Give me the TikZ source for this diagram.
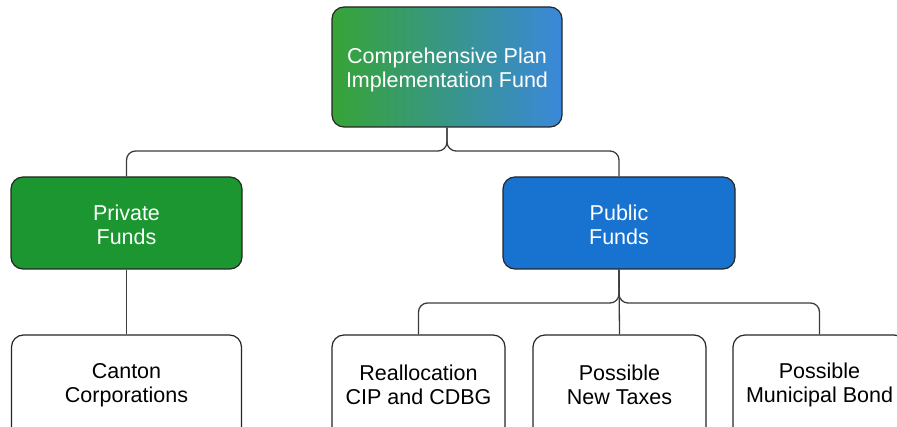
\documentclass[tikz,border=0pt]{standalone}
\usepackage{fontspec}
\setmainfont{Liberation Sans}
\definecolor{gstart}{HTML}{36A436}
\definecolor{gend}{HTML}{3A88DA}
\definecolor{privfill}{HTML}{1B9630}
\definecolor{pubfill}{HTML}{1873D0}
\definecolor{linecol}{HTML}{3C3C3C}
\tikzset{
  txt/.style={font=\fontsize{21.5}{24}\selectfont, align=center},
  box/.style={draw=black!85, line width=1.2pt, rounded corners=12pt, inner sep=0pt},
  conn/.style={draw=linecol, line width=1.3pt, rounded corners=9pt},
}
\begin{document}
\begin{tikzpicture}[x=1pt,y=-1pt]
\useasboundingbox (0,0) rectangle (897,427);
\clip (0,0) rectangle (897,427);
\node[box, left color=gstart, right color=gend, minimum width=230pt, minimum height=120pt] (top) at (447,67) {};
\node[txt, text=white] (topt) at (447,70) {Comprehensive Plan\\Implementation Fund};
\node[box, fill=privfill, minimum width=231pt, minimum height=92pt] (priv) at (126.5,223) {};
\node[txt, text=white] (privt) at (126.5,224.5) {Private\\Funds};
\node[box, fill=pubfill, minimum width=232pt, minimum height=92pt] (pub) at (619,223) {};
\node[txt, text=white] (pubt) at (619,224.5) {Public\\Funds};
\node[box, fill=white, minimum width=230pt, minimum height=110pt] (canton) at (126.5,390) {};
\node[txt] (cantont) at (126.5,385) {Canton\\Corporations};
\node[box, fill=white, minimum width=173pt, minimum height=110pt] (realloc) at (418.5,390) {};
\node[txt] (realloct) at (418.5,385) {Reallocation\\CIP and CDBG};
\node[box, fill=white, minimum width=173pt, minimum height=110pt] (taxes) at (619.5,390) {};
\node[txt] (taxest) at (619.5,385) {Possible\\New Taxes};
\node[box, fill=white, minimum width=173pt, minimum height=110pt] (bond) at (819.5,390) {};
\node[txt] (bondt) at (819.5,385) {Possible\\Municipal Bond};
\coordinate (bus1) at (447,151);
\coordinate (bus2) at (619,303);
\draw[conn] (top.south) -- (bus1) -| (priv.north);
\draw[conn] (top.south) -- (bus1) -| (pub.north);
\draw[conn] (priv.south) -- (canton.north);
\draw[conn] (pub.south) -- (bus2) -| (realloc.north);
\draw[conn] (pub.south) -- (bus2) -| (bond.north);
\draw[line width=1.3pt, draw=linecol] (pub.south) -- (taxes.north);
\end{tikzpicture}
\end{document}
